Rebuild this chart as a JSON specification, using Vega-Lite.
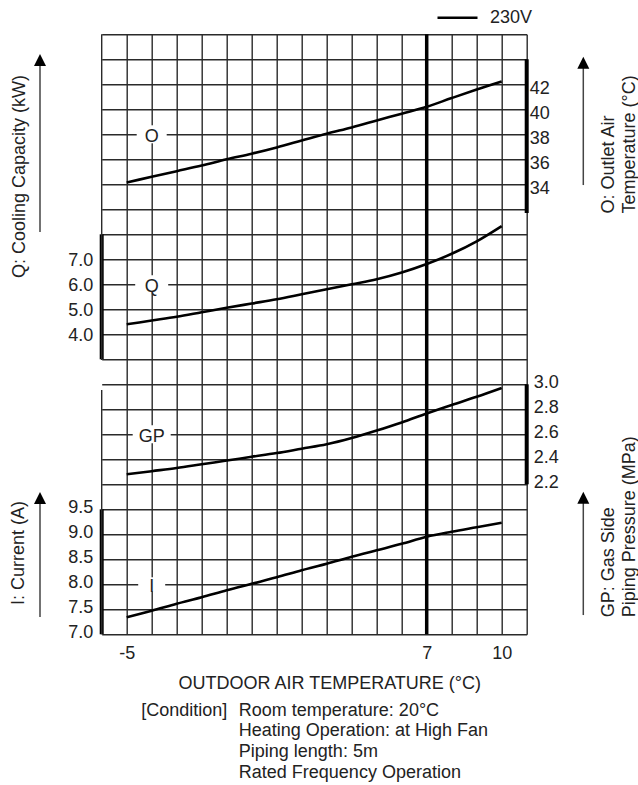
{
  "$schema": "https://vega.github.io/schema/vega-lite/v6.json",
  "width": 425,
  "height": 600,
  "autosize": {"type": "none"},
  "padding": {"left": 101.7, "top": 34.3, "right": 111.3, "bottom": 150.7},
  "background": "white",
  "config": {
    "view": {"stroke": null},
    "font": "Liberation Sans",
    "axis": {
      "labelFont": "Liberation Sans", "titleFont": "Liberation Sans",
      "labelFontSize": 18, "titleFontSize": 18, "titleFontWeight": "normal",
      "labelColor": "#222", "titleColor": "#222"
    }
  },
  "datasets": {
    "O": [
      {"x": -5, "value": 34.15}, {"x": -4, "value": 34.6}, {"x": -3, "value": 35.05}, {"x": -2, "value": 35.5},
      {"x": -1, "value": 36.0}, {"x": 0, "value": 36.45}, {"x": 1, "value": 36.95}, {"x": 2, "value": 37.5},
      {"x": 3, "value": 38.05}, {"x": 4, "value": 38.55}, {"x": 5, "value": 39.1}, {"x": 6, "value": 39.65},
      {"x": 7, "value": 40.2}, {"x": 8, "value": 40.9}, {"x": 9, "value": 41.58}, {"x": 10, "value": 42.22}
    ],
    "Q": [
      {"x": -5, "value": 4.4}, {"x": -4, "value": 4.55}, {"x": -3, "value": 4.7}, {"x": -2, "value": 4.88},
      {"x": -1, "value": 5.06}, {"x": 0, "value": 5.23}, {"x": 1, "value": 5.4}, {"x": 2, "value": 5.6},
      {"x": 3, "value": 5.8}, {"x": 4, "value": 6.0}, {"x": 5, "value": 6.2}, {"x": 6, "value": 6.47},
      {"x": 7, "value": 6.81}, {"x": 8, "value": 7.22}, {"x": 9, "value": 7.72}, {"x": 10, "value": 8.33}
    ],
    "GP": [
      {"x": -5, "value": 2.28}, {"x": -4, "value": 2.305}, {"x": -3, "value": 2.33}, {"x": -2, "value": 2.36},
      {"x": -1, "value": 2.39}, {"x": 0, "value": 2.42}, {"x": 1, "value": 2.45}, {"x": 2, "value": 2.485},
      {"x": 3, "value": 2.52}, {"x": 4, "value": 2.57}, {"x": 5, "value": 2.63}, {"x": 6, "value": 2.695},
      {"x": 7, "value": 2.767}, {"x": 8, "value": 2.835}, {"x": 9, "value": 2.9}, {"x": 10, "value": 2.97}
    ],
    "I": [
      {"x": -5, "value": 7.34}, {"x": -4, "value": 7.47}, {"x": -3, "value": 7.61}, {"x": -2, "value": 7.74},
      {"x": -1, "value": 7.88}, {"x": 0, "value": 8.01}, {"x": 1, "value": 8.14}, {"x": 2, "value": 8.28},
      {"x": 3, "value": 8.41}, {"x": 4, "value": 8.55}, {"x": 5, "value": 8.68}, {"x": 6, "value": 8.81},
      {"x": 7, "value": 8.95}, {"x": 8, "value": 9.05}, {"x": 9, "value": 9.14}, {"x": 10, "value": 9.23}
    ],
    "labels": [
      {"series": "O", "label": "O", "x": -4, "value": 38},
      {"series": "Q", "label": "Q", "x": -4, "value": 6.0},
      {"series": "GP", "label": "GP", "x": -4, "value": 2.6},
      {"series": "I", "label": "I", "x": -4, "value": 8.0}
    ],
    "ranges": [
      {"series": "O", "lo": 31.7, "hi": 44},
      {"series": "Q", "lo": 3, "hi": 8},
      {"series": "GP", "lo": 2.2, "hi": 3.0},
      {"series": "I", "lo": 7, "hi": 9.5}
    ]
  },
  "layer": [
    {
      "data": {"name": "I"},
      "mark": {"type": "line", "interpolate": "monotone", "strokeWidth": 2.6, "color": "#000"},
      "encoding": {
        "x": {"field": "x", "type": "quantitative", "scale": {"domain": [-6, 11], "nice": false, "zero": false},
              "axis": {"orient": "bottom", "values": [-5, -4, -3, -2, -1, 0, 1, 2, 3, 4, 5, 6, 7, 8, 9, 10, 11], "grid": true, "gridColor": "#2a2a2a", "gridWidth": 1.4, "gridOpacity": 1,
                       "ticks": false, "domain": false, "labelFlush": false, "labelOverlap": false,
                       "labelExpr": "datum.value == -5 ? '-5\u00a0' : (datum.value == 7 || datum.value == 10 ? '' + datum.value : '')", "labelBaseline": "alphabetic", "labelPadding": 24,
                       "title": "OUTDOOR AIR TEMPERATURE (°C)", "titleX": 76.3, "titleY": 54, "titleAlign": "left", "titleBaseline": "alphabetic"}},
        "y": {"field": "value", "type": "quantitative", "scale": {"domain": [7, 19], "nice": false, "zero": false},
              "axis": {"orient": "left", "values": [7, 7.5, 8, 8.5, 9, 9.5, 10, 10.5, 11, 11.5, 12, 12.5, 13, 13.5, 14, 14.5, 15, 15.5, 16, 16.5, 17, 17.5, 18, 18.5, 19],
                       "grid": true, "gridColor": "#2a2a2a", "gridWidth": 1.4, "gridOpacity": 1, "ticks": false, "domain": false, "labelFlush": false, "labelOverlap": false,
                       "labelExpr": "datum.value <= 9.5 ? format(datum.value, '.1f') : ''", "labelPadding": 9, "labelOffset": -1.6, "labelBaseline": "middle",
                       "title": "I: Current (A)", "titleAngle": -90, "titleX": -78.5, "titleY": 518.2, "titleAlign": "center", "titleBaseline": "alphabetic"}}
      }
    },
    {
      "data": {"name": "O"},
      "mark": {"type": "line", "interpolate": "monotone", "strokeWidth": 2.6},
      "encoding": {
        "x": {"field": "x", "type": "quantitative", "scale": {"domain": [-6, 11], "nice": false, "zero": false},
              "axis": {"orient": "bottom", "labels": false, "grid": false, "ticks": false, "domain": false, "title": "[Condition]", "titleX": 39, "titleY": 80.7, "titleAlign": "left", "titleBaseline": "alphabetic"}},
        "y": {"field": "value", "type": "quantitative", "scale": {"domain": [-2, 46], "nice": false, "zero": false},
              "axis": {"orient": "right", "values": [34, 36, 38, 40, 42], "format": "d", "grid": false, "ticks": false, "domain": false, "labelFlush": false, "labelOverlap": false,
                       "labelPadding": 2.6, "labelOffset": 4, "labelAlign": "left", "labelBaseline": "middle",
                       "title": ["O: Outlet Air", "\u00a0\u00a0\u00a0\u00a0\u00a0Temperature (°C)"], "titleAngle": -90, "titleX": 86.3, "titleY": 178.7, "titleAlign": "left", "titleBaseline": "alphabetic", "titleLineHeight": 21}},
        "stroke": {"datum": "230V", "type": "nominal", "scale": {"domain": ["230V"], "range": ["#000"]},
                   "legend": {"orient": "none", "legendX": 334.3, "legendY": -38, "title": null, "symbolType": "stroke", "symbolSize": 1600, "symbolStrokeWidth": 2.5, "symbolStrokeColor": "#000", "labelFontSize": 18, "labelFont": "Liberation Sans", "labelColor": "#222", "labelOffset": 11, "padding": 0}}
      }
    },
    {
      "data": {"name": "Q"},
      "mark": {"type": "line", "interpolate": "monotone", "strokeWidth": 2.6, "color": "#000"},
      "encoding": {
        "x": {"field": "x", "type": "quantitative", "scale": {"domain": [-6, 11], "nice": false, "zero": false},
              "axis": {"orient": "bottom", "labels": false, "grid": false, "ticks": false, "domain": false, "title": ["Room temperature: 20°C", "Heating Operation: at High Fan", "Piping length: 5m", "Rated Frequency Operation"], "titleX": 136.6, "titleY": 80.7, "titleAlign": "left", "titleBaseline": "alphabetic", "titleLineHeight": 20.9}},
        "y": {"field": "value", "type": "quantitative", "scale": {"domain": [-8, 16], "nice": false, "zero": false},
              "axis": {"orient": "left", "values": [4, 5, 6, 7], "format": ".1f", "grid": false, "ticks": false, "domain": false, "labelFlush": false, "labelOverlap": false,
                       "labelPadding": 9, "labelOffset": 1, "labelBaseline": "middle",
                       "title": "Q: Cooling Capacity (kW)", "titleAngle": -90, "titleX": -77.2, "titleY": 141.7, "titleAlign": "center", "titleBaseline": "alphabetic"}}
      }
    },
    {
      "data": {"name": "GP"},
      "mark": {"type": "line", "interpolate": "monotone", "strokeWidth": 2.6, "color": "#000"},
      "encoding": {
        "x": {"field": "x", "type": "quantitative", "scale": {"domain": [-6, 11], "nice": false, "zero": false}, "axis": null},
        "y": {"field": "value", "type": "quantitative", "scale": {"domain": [1.0, 5.8], "nice": false, "zero": false},
              "axis": {"orient": "right", "values": [2.2, 2.4, 2.6, 2.8, 3.0], "format": ".1f", "grid": false, "ticks": false, "domain": false, "labelFlush": false, "labelOverlap": false,
                       "labelPadding": 6.6, "labelOffset": -1.6, "labelAlign": "left", "labelBaseline": "middle",
                       "title": ["GP: Gas Side", "\u00a0\u00a0\u00a0\u00a0\u00a0\u00a0\u00a0\u00a0Piping Pressure (MPa)"], "titleAngle": -90, "titleX": 86.3, "titleY": 582.4, "titleAlign": "left", "titleBaseline": "alphabetic", "titleLineHeight": 21}}
      }
    },
    {
      "data": {"name": "labels"},
      "transform": [{"filter": "datum.series == 'O'"}],
      "mark": {"type": "point", "shape": "M-1,-0.6H1V0.6H-1Z", "size": 900, "filled": true, "color": "white", "opacity": 1, "strokeWidth": 0},
      "encoding": {"x": {"field": "x", "type": "quantitative", "axis": null}, "y": {"field": "value", "type": "quantitative", "scale": {"domain": [-2, 46], "nice": false, "zero": false}, "axis": null}}
    },
    {
      "data": {"name": "labels"},
      "transform": [{"filter": "datum.series == 'Q'"}],
      "mark": {"type": "point", "shape": "M-1,-0.545H1V0.545H-1Z", "size": 1089, "filled": true, "color": "white", "opacity": 1, "strokeWidth": 0},
      "encoding": {"x": {"field": "x", "type": "quantitative", "axis": null}, "y": {"field": "value", "type": "quantitative", "scale": {"domain": [-8, 16], "nice": false, "zero": false}, "axis": null}}
    },
    {
      "data": {"name": "labels"},
      "transform": [{"filter": "datum.series == 'GP'"}],
      "mark": {"type": "point", "shape": "M-1,-0.474H1V0.474H-1Z", "size": 1444, "filled": true, "color": "white", "opacity": 1, "strokeWidth": 0},
      "encoding": {"x": {"field": "x", "type": "quantitative", "axis": null}, "y": {"field": "value", "type": "quantitative", "scale": {"domain": [1.0, 5.8], "nice": false, "zero": false}, "axis": null}}
    },
    {
      "data": {"name": "labels"},
      "transform": [{"filter": "datum.series == 'I'"}],
      "mark": {"type": "point", "shape": "M-1,-0.52H1V0.52H-1Z", "size": 729, "filled": true, "color": "white", "opacity": 1, "strokeWidth": 0},
      "encoding": {"x": {"field": "x", "type": "quantitative", "axis": null}, "y": {"field": "value", "type": "quantitative", "scale": {"domain": [7, 19], "nice": false, "zero": false}, "axis": null}}
    },
    {
      "data": {"name": "labels"},
      "transform": [{"filter": "datum.series == 'O'"}],
      "mark": {"type": "text", "fontSize": 18, "color": "#222", "baseline": "middle", "align": "center", "dy": 3},
      "encoding": {"x": {"field": "x", "type": "quantitative", "axis": null}, "y": {"field": "value", "type": "quantitative", "scale": {"domain": [-2, 46], "nice": false, "zero": false}, "axis": null}, "text": {"field": "label"}}
    },
    {
      "data": {"name": "labels"},
      "transform": [{"filter": "datum.series == 'Q'"}],
      "mark": {"type": "text", "fontSize": 18, "color": "#222", "baseline": "middle", "align": "center", "dy": 3},
      "encoding": {"x": {"field": "x", "type": "quantitative", "axis": null}, "y": {"field": "value", "type": "quantitative", "scale": {"domain": [-8, 16], "nice": false, "zero": false}, "axis": null}, "text": {"field": "label"}}
    },
    {
      "data": {"name": "labels"},
      "transform": [{"filter": "datum.series == 'GP'"}],
      "mark": {"type": "text", "fontSize": 18, "color": "#222", "baseline": "middle", "align": "center", "dy": 3},
      "encoding": {"x": {"field": "x", "type": "quantitative", "axis": null}, "y": {"field": "value", "type": "quantitative", "scale": {"domain": [1.0, 5.8], "nice": false, "zero": false}, "axis": null}, "text": {"field": "label"}}
    },
    {
      "data": {"name": "labels"},
      "transform": [{"filter": "datum.series == 'I'"}],
      "mark": {"type": "text", "fontSize": 18, "color": "#222", "baseline": "middle", "align": "center", "dy": 3},
      "encoding": {"x": {"field": "x", "type": "quantitative", "axis": null}, "y": {"field": "value", "type": "quantitative", "scale": {"domain": [7, 19], "nice": false, "zero": false}, "axis": null}, "text": {"field": "label"}}
    },
    {
      "data": {"name": "ranges"},
      "transform": [{"filter": "datum.series == 'O'"}],
      "mark": {"type": "rule", "strokeWidth": 4, "color": "#000"},
      "encoding": {"x": {"datum": 11, "type": "quantitative", "axis": null}, "y": {"field": "lo", "type": "quantitative", "scale": {"domain": [-2, 46], "nice": false, "zero": false}, "axis": null}, "y2": {"field": "hi"}}
    },
    {
      "data": {"name": "ranges"},
      "transform": [{"filter": "datum.series == 'Q'"}],
      "mark": {"type": "rule", "strokeWidth": 4, "color": "#000"},
      "encoding": {"x": {"datum": -6, "type": "quantitative", "axis": null}, "y": {"field": "lo", "type": "quantitative", "scale": {"domain": [-8, 16], "nice": false, "zero": false}, "axis": null}, "y2": {"field": "hi"}}
    },
    {
      "data": {"name": "ranges"},
      "transform": [{"filter": "datum.series == 'GP'"}],
      "mark": {"type": "rule", "strokeWidth": 4, "color": "#000"},
      "encoding": {"x": {"datum": 11, "type": "quantitative", "axis": null}, "y": {"field": "lo", "type": "quantitative", "scale": {"domain": [1.0, 5.8], "nice": false, "zero": false}, "axis": null}, "y2": {"field": "hi"}}
    },
    {
      "data": {"name": "ranges"},
      "transform": [{"filter": "datum.series == 'I'"}],
      "mark": {"type": "rule", "strokeWidth": 4, "color": "#000"},
      "encoding": {"x": {"datum": -6, "type": "quantitative", "axis": null}, "y": {"field": "lo", "type": "quantitative", "scale": {"domain": [7, 19], "nice": false, "zero": false}, "axis": null}, "y2": {"field": "hi"}}
    },
    {
      "data": {"values": [{"lo": 7, "hi": 11.886}, {"lo": 12.486, "hi": 19}]},
      "mark": {"type": "rule", "strokeWidth": 1.4, "color": "#2a2a2a"},
      "encoding": {"x": {"datum": -6, "type": "quantitative", "axis": null}, "y": {"field": "lo", "type": "quantitative", "scale": {"domain": [7, 19], "nice": false, "zero": false}, "axis": null}, "y2": {"field": "hi"}}
    },
    {
      "data": {"values": [{"lo": 33.94, "hi": 43.73}]},
      "mark": {"type": "rule", "strokeWidth": 1.5, "color": "#444"},
      "encoding": {"x": {"datum": 13.264, "type": "quantitative", "axis": null}, "y": {"field": "lo", "type": "quantitative", "scale": {"domain": [-2, 46], "nice": false, "zero": false}, "axis": null}, "y2": {"field": "hi"}}
    },
    {
      "data": {"values": [{"hi": 43.73}]},
      "mark": {"type": "point", "shape": "M0,-1L1,1L-1,1Z", "size": 144, "filled": true, "color": "#000", "opacity": 1, "strokeWidth": 0},
      "encoding": {"x": {"datum": 13.264, "type": "quantitative", "axis": null}, "y": {"field": "hi", "type": "quantitative", "scale": {"domain": [-2, 46], "nice": false, "zero": false}, "axis": null}}
    },
    {
      "data": {"values": [{"lo": 8.09, "hi": 14.97}]},
      "mark": {"type": "rule", "strokeWidth": 1.5, "color": "#444"},
      "encoding": {"x": {"datum": -8.468, "type": "quantitative", "axis": null}, "y": {"field": "lo", "type": "quantitative", "scale": {"domain": [-8, 16], "nice": false, "zero": false}, "axis": null}, "y2": {"field": "hi"}}
    },
    {
      "data": {"values": [{"hi": 14.97}]},
      "mark": {"type": "point", "shape": "M0,-1L1,1L-1,1Z", "size": 144, "filled": true, "color": "#000", "opacity": 1, "strokeWidth": 0},
      "encoding": {"x": {"datum": -8.468, "type": "quantitative", "axis": null}, "y": {"field": "hi", "type": "quantitative", "scale": {"domain": [-8, 16], "nice": false, "zero": false}, "axis": null}}
    },
    {
      "data": {"values": [{"lo": 1.154, "hi": 2.093}]},
      "mark": {"type": "rule", "strokeWidth": 1.5, "color": "#444"},
      "encoding": {"x": {"datum": 13.264, "type": "quantitative", "axis": null}, "y": {"field": "lo", "type": "quantitative", "scale": {"domain": [1.0, 5.8], "nice": false, "zero": false}, "axis": null}, "y2": {"field": "hi"}}
    },
    {
      "data": {"values": [{"hi": 2.093}]},
      "mark": {"type": "point", "shape": "M0,-1L1,1L-1,1Z", "size": 144, "filled": true, "color": "#000", "opacity": 1, "strokeWidth": 0},
      "encoding": {"x": {"datum": 13.264, "type": "quantitative", "axis": null}, "y": {"field": "hi", "type": "quantitative", "scale": {"domain": [1.0, 5.8], "nice": false, "zero": false}, "axis": null}}
    },
    {
      "data": {"values": [{"lo": 7.346, "hi": 9.726}]},
      "mark": {"type": "rule", "strokeWidth": 1.5, "color": "#444"},
      "encoding": {"x": {"datum": -8.468, "type": "quantitative", "axis": null}, "y": {"field": "lo", "type": "quantitative", "scale": {"domain": [7, 19], "nice": false, "zero": false}, "axis": null}, "y2": {"field": "hi"}}
    },
    {
      "data": {"values": [{"hi": 9.726}]},
      "mark": {"type": "point", "shape": "M0,-1L1,1L-1,1Z", "size": 144, "filled": true, "color": "#000", "opacity": 1, "strokeWidth": 0},
      "encoding": {"x": {"datum": -8.468, "type": "quantitative", "axis": null}, "y": {"field": "hi", "type": "quantitative", "scale": {"domain": [7, 19], "nice": false, "zero": false}, "axis": null}}
    },
    {
      "data": {"values": [{}]},
      "mark": {"type": "rule", "strokeWidth": 3.5, "color": "#000"},
      "encoding": {"x": {"datum": 7, "type": "quantitative", "axis": null}}
    }
  ],
  "resolve": {"scale": {"y": "independent"}, "axis": {"x": "independent", "y": "independent"}}
}
